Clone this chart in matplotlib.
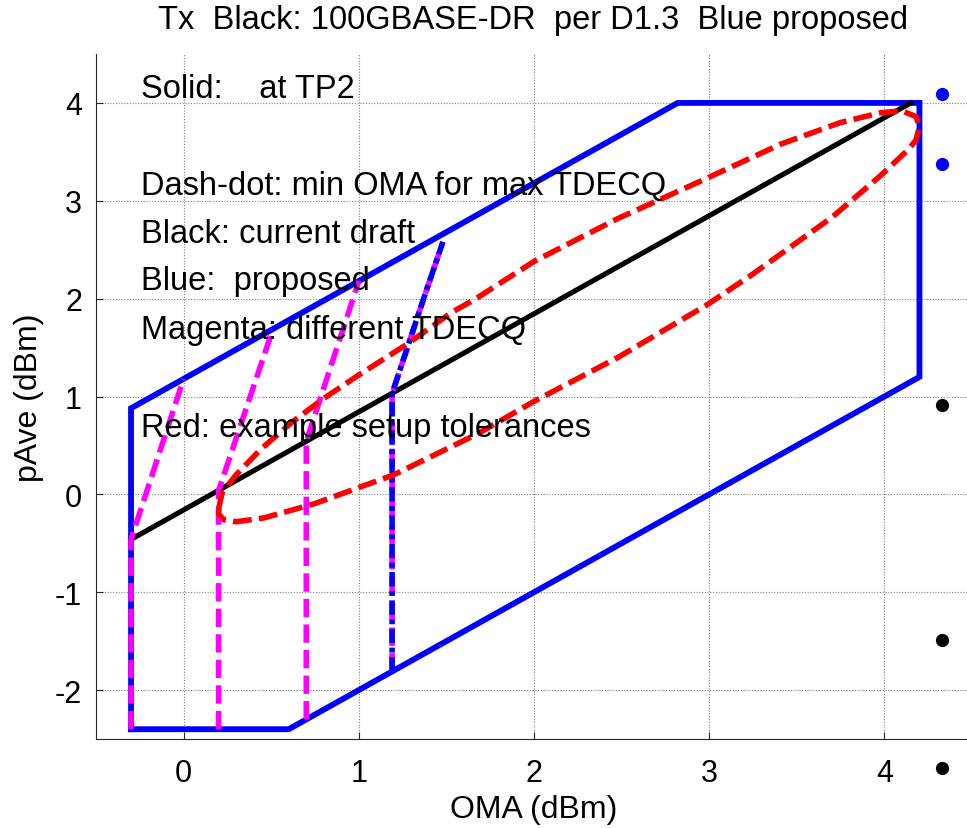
import matplotlib
matplotlib.use("Agg")
import matplotlib.pyplot as plt

plt.rcParams['font.family'] = ['Liberation Sans', 'DejaVu Sans']
plt.rcParams['axes.unicode_minus'] = False

# ---- data ----
# proposed (blue) region polygon: OMA, pAve
blue_oma = [-0.30, -0.30, 2.82, 4.20, 4.20, 0.60, -0.30]
blue_pave = [-2.40, 0.88, 4.00, 4.00, 1.20, -2.40, -2.40]

# current draft (black)
black_oma = [-0.30, 4.15]
black_pave = [-0.46, 4.00]

# magenta: different TDECQ
mag1_oma = [-0.30, -0.30, 0.00]
mag1_pave = [-2.40, -0.46, 1.18]
mag2_oma = [0.20, 0.20, 0.51]
mag2_pave = [-2.40, 0.04, 1.69]
mag3_oma = [0.70, 0.70, 1.00]
mag3_pave = [-2.30, 0.54, 2.18]
mag4_oma = [1.19, 1.19, 1.37, 1.48]
mag4_pave = [-1.81, 1.03, 2.00, 2.58]

# blue dash-dot: min OMA for max TDECQ
dd_oma = [1.19, 1.19, 1.37, 1.48]
dd_pave = [-1.81, 1.03, 2.00, 2.58]

# red: example setup tolerances (closed curve)
red_oma = [0.20, 0.22, 0.30, 0.44, 0.62, 0.80, 1.00, 1.28, 1.53, 1.66, 2.00, 2.48,
           2.95, 3.41, 3.75, 3.98, 4.10, 4.18, 4.20, 4.18, 4.14, 3.98, 3.70, 3.24,
           2.99, 2.48, 2.00, 1.68, 1.20, 0.74, 0.46, 0.30, 0.23, 0.20, 0.20]
red_pave = [-0.15, 0.02, 0.20, 0.46, 0.74, 0.98, 1.22, 1.54, 1.86, 1.99, 2.38, 2.82,
            3.20, 3.58, 3.80, 3.90, 3.92, 3.86, 3.76, 3.62, 3.53, 3.26, 2.83, 2.24,
            1.94, 1.40, 0.95, 0.62, 0.20, -0.10, -0.24, -0.28, -0.26, -0.20, -0.15]

# markers at the right edge
dot_oma = [4.33, 4.33, 4.33, 4.33, 4.33]
dot_pave = [4.09, 3.38, 0.91, -1.49, -2.80]
dot_colors = ['#0000ff', '#0000ff', '#000000', '#000000', '#000000']

notes = ["Solid:    at TP2",
         "Dash-dot: min OMA for max TDECQ",
         "Black: current draft",
         "Blue:  proposed",
         "Magenta: different TDECQ",
         "Red: example setup tolerances"]
note_y = [4.15, 3.16, 2.67, 2.19, 1.68, 0.68]

xticks = [0, 1, 2, 3, 4]
yticks = [-2, -1, 0, 1, 2, 3, 4]

# ---- figure ----
fig = plt.figure(figsize=(9.67, 8.29), dpi=100)
ax = fig.add_axes([96 / 967, 1 - 740 / 829, 876 / 967, (740 - 55) / 829])
ax.set_xlim(-0.5, 4.5)
ax.set_ylim(-2.5, 4.5)

ax.grid(True, color='#808080', linestyle=(0, (1, 1.5)), linewidth=0.8)
ax.set_axisbelow(True)

BLUE = '#0000ff'
MAG = '#ff00ff'
RED = '#ff0000'
LW = 4.0

ax.plot(blue_oma, blue_pave, color=BLUE, lw=4.2, solid_joinstyle='miter', zorder=3)
ax.plot(black_oma, black_pave, color='black', lw=3.7, zorder=3)

for xo, yp in [(mag1_oma, mag1_pave), (mag2_oma, mag2_pave),
               (mag3_oma, mag3_pave), (mag4_oma, mag4_pave)]:
    ax.plot(xo, yp, color=MAG, lw=LW, dashes=(3.3, 1.3), zorder=4)

ax.plot(dd_oma, dd_pave, color=BLUE, lw=LW, dashes=(2.6, 0.8, 0.9, 0.8), zorder=5)
ax.plot(red_oma, red_pave, color=RED, lw=LW, dashes=(3.4, 1.3), zorder=5)

for xo, yp, c in zip(dot_oma, dot_pave, dot_colors):
    ax.plot([xo], [yp], 'o', color=c, ms=8.5, clip_on=False, zorder=6)

for t, y in zip(notes, note_y):
    ax.text(-0.245, y, t, fontsize=23.5, va='center', ha='left', zorder=7)

ax.set_xticks(xticks)
ax.set_yticks(yticks)
ax.tick_params(direction='in', length=5, width=0.8, labelsize=22, colors='#262626')
ax.tick_params(axis='x', pad=14)
ax.tick_params(axis='y', pad=10)
ax.tick_params(labelcolor='black')
for s in ['top', 'right']:
    ax.spines[s].set_visible(False)
for s in ['left', 'bottom']:
    ax.spines[s].set_color('#262626')
    ax.spines[s].set_linewidth(0.8)

ax.set_xlabel('OMA (dBm)', fontsize=23, labelpad=4)
ax.set_ylabel('pAve (dBm)', fontsize=23, labelpad=8)
fig.text(533 / 967, 1 - 21 / 829, 'Tx  Black: 100GBASE-DR  per D1.3  Blue proposed',
         fontsize=23.5, ha='center', va='center')

fig.savefig('out.png', dpi=100)
